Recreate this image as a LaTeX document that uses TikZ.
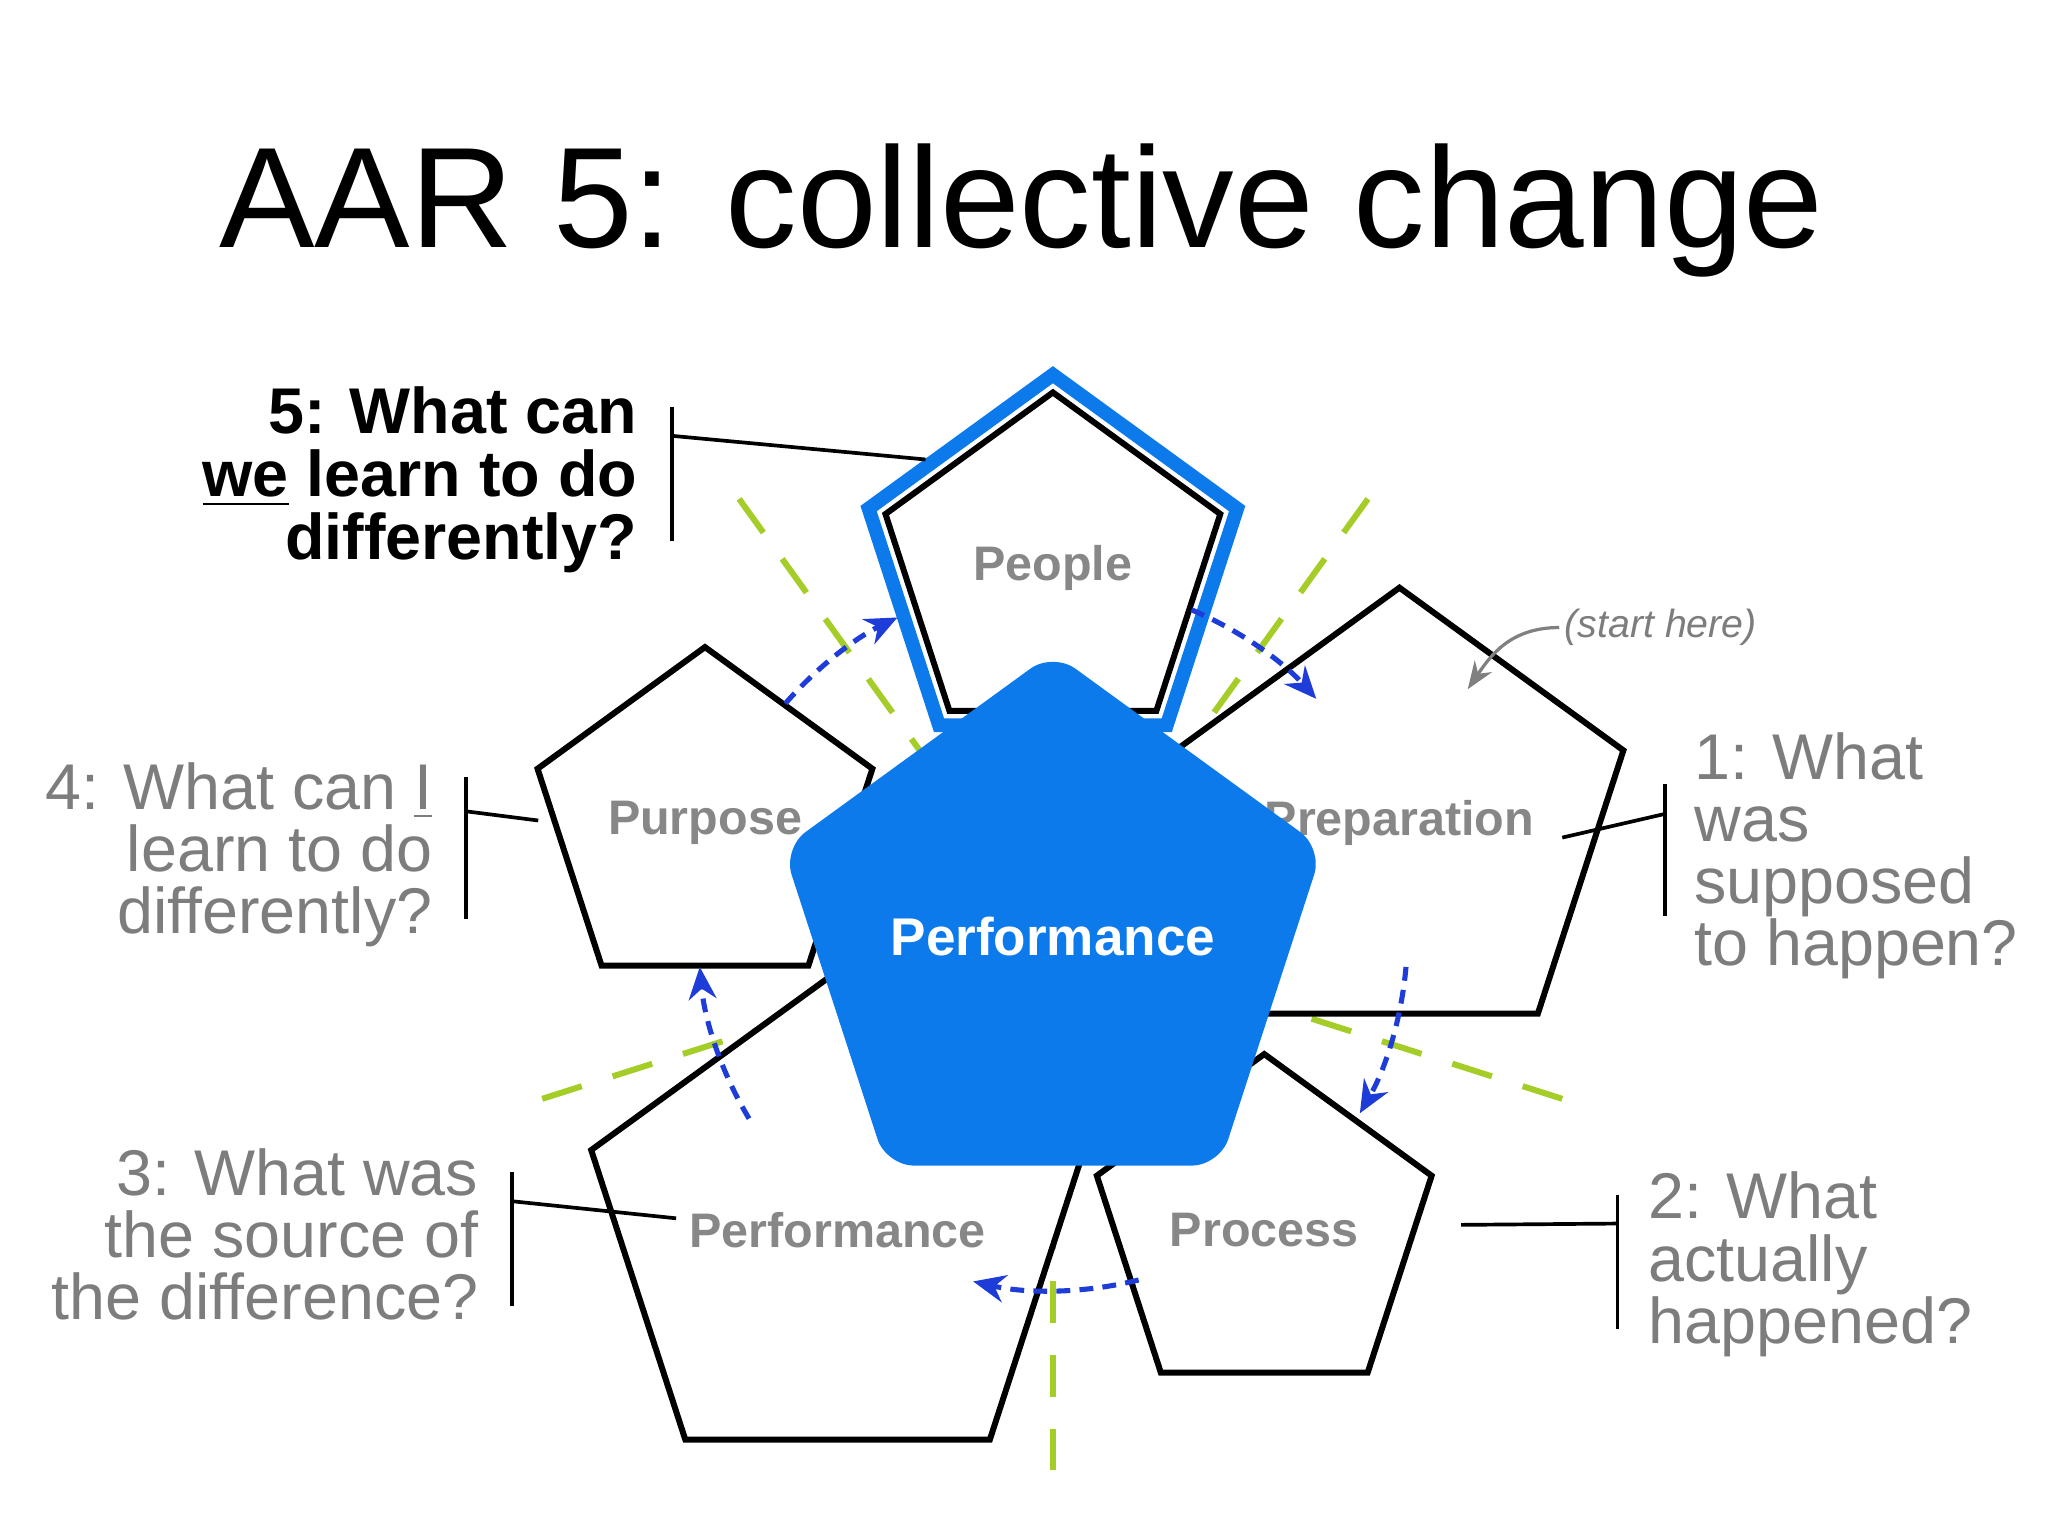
\documentclass[tikz,border=0pt]{standalone}
\usepackage{fontspec}
\setmainfont{Liberation Sans}
\usetikzlibrary{shapes.geometric,arrows.meta,calc}
\definecolor{aarblue}{RGB}{12,122,235}
\definecolor{arcblue}{RGB}{30,60,215}
\definecolor{lime}{RGB}{165,205,40}
\definecolor{lgray}{RGB}{125,125,125}
\definecolor{pgray}{RGB}{135,135,135}
\tikzset{
 pent/.style={regular polygon,regular polygon sides=5,draw=black,line width=1.3pt,fill=white,inner sep=0pt,minimum size=2.68cm,text=pgray,font=\fontsize{10.5}{12}\selectfont\bfseries},
 guide/.style={lime,line width=1.3pt,dash pattern=on 9pt off 7pt},
 cyc/.style={arcblue,line width=1.1pt,dash pattern=on 3pt off 2pt,-{Stealth[length=7pt,width=6pt]}},
 lbl/.style={lgray,font=\fontsize{14}{13.5}\selectfont,inner sep=0pt},
 conn/.style={black,line width=0.8pt}
}
\begin{document}
\begin{tikzpicture}[x=0.01cm,y=-0.01cm]
\useasboundingbox[fill=white] (0,0) rectangle (1560,1170);
\node[font=\fontsize{31}{37}\selectfont] (title) at (778,160) {AAR 5: collective change};
\coordinate (c) at (802,713);
% guide lines
\draw[guide] (563,380) -- (c);
\draw[guide] (1042,380) -- (c);
\draw[guide] (413,837) -- (c);
\draw[guide] (1190,837) -- (c);
\draw[guide] (802,1120) -- (c);
% pentagons
\node[pent] (purpose) at (537,627) {Purpose};
\node[pent] (prep) at (1066,627) {Preparation};
\node[pent] (perf) at (638,937) {Performance};
\node[pent] (process) at (963,937) {Process};
\node[regular polygon,regular polygon sides=5,draw=aarblue,line width=3pt,inner sep=0pt,minimum size=2.95cm] (outer) at (802,433) {};
\node[pent] (people) at (802,433) {People};
\node[regular polygon,regular polygon sides=5,fill=aarblue,rounded corners=6pt,inner sep=0pt,minimum size=3.02cm,text=white,font=\fontsize{11.5}{13}\selectfont\bfseries] (center) at (802,713) {\raisebox{-8pt}{Performance}};
% cycle arcs
\draw[cyc] ($(c)+(-67:270)$) arc[start angle=-67,end angle=-42,radius=270];
\draw[cyc] ($(c)+(5:270)$) arc[start angle=5,end angle=30,radius=270];
\draw[cyc] ($(c)+(76:270)$) arc[start angle=76,end angle=103,radius=270];
\draw[cyc] ($(c)+(149:270)$) arc[start angle=149,end angle=175,radius=270];
\draw[cyc] ($(c)+(-139:270)$) arc[start angle=-139,end angle=-116,radius=270];
% start here
\node[lgray,font=\fontsize{8.5}{10}\selectfont\itshape,inner sep=1pt] (start) at (1265,478) {(start here)};
\draw[gray,line width=0.7pt,-{Stealth[length=6pt]}] (start.west) .. controls (1150,478) and (1135,500) .. (1118,525);
% labels
\node[lbl,text=black,font=\fontsize{14}{13.6}\selectfont\bfseries,align=right,anchor=north east] (q5) at (486,294) {5: What can\\\underline{we} learn to do\\differently?};
\node[lbl,align=right,anchor=north east] (q4) at (330,580) {4: What can \underline{I}\\learn to do\\differently?};
\node[lbl,align=left,anchor=north west] (q1) at (1290,557) {1: What\\was\\supposed\\to happen?};
\node[lbl,align=right,anchor=north east] (q3) at (365,874) {3: What was\\the source of\\the difference?};
\node[lbl,align=left,anchor=north west] (q2) at (1255,892) {2: What\\actually\\happened?};
% connectors
\coordinate (b5a) at (512,310); \coordinate (b5b) at (512,412); \coordinate (b5m) at (512,332); \coordinate (p5) at (705,350);
\draw[conn] (b5a) -- (b5b); \draw[conn] (b5m) -- (p5);
\coordinate (b4a) at (355,592); \coordinate (b4b) at (355,700); \coordinate (b4m) at (355,618); \coordinate (p4) at (410,625);
\draw[conn] (b4a) -- (b4b); \draw[conn] (b4m) -- (p4);
\coordinate (b1a) at (1268,597); \coordinate (b1b) at (1268,698); \coordinate (b1m) at (1268,620); \coordinate (p1) at (1190,638);
\draw[conn] (b1a) -- (b1b); \draw[conn] (b1m) -- (p1);
\coordinate (b3a) at (390,893); \coordinate (b3b) at (390,995); \coordinate (b3m) at (390,915); \coordinate (p3) at (515,928);
\draw[conn] (b3a) -- (b3b); \draw[conn] (b3m) -- (p3);
\coordinate (b2a) at (1232,910); \coordinate (b2b) at (1232,1012); \coordinate (b2m) at (1232,932); \coordinate (p2) at (1113,933);
\draw[conn] (b2a) -- (b2b); \draw[conn] (b2m) -- (p2);
\end{tikzpicture}
\end{document}
